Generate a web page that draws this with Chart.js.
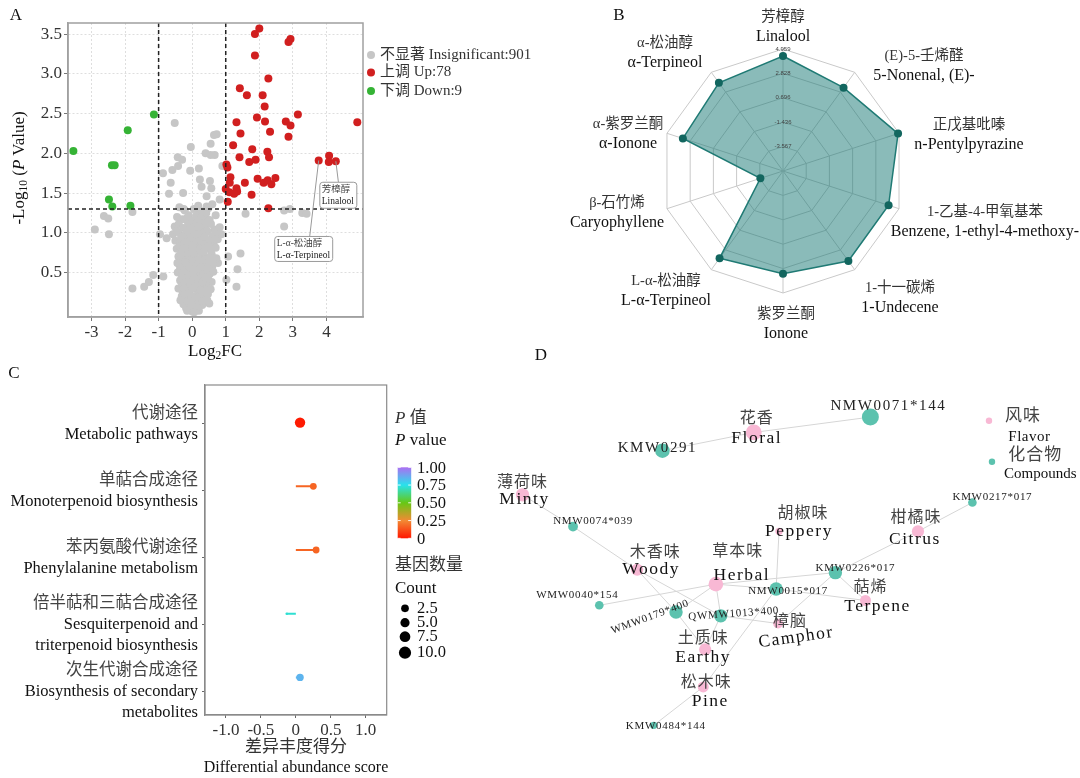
<!DOCTYPE html>
<html>
<head>
<meta charset="utf-8">
<script src="https://cdn.jsdelivr.net/npm/chart.js@4.4.1/dist/chart.umd.min.js"></script>
<style>
  body { margin:0; width:1080px; height:778px; background:#fff; position:relative; overflow:hidden;
         font-family:"Liberation Serif","Noto Sans CJK SC",serif; }
  canvas { position:absolute; }
  .t { position:absolute; white-space:nowrap; color:#111; line-height:1; transform:translate(-50%,-50%); }
  .l { position:absolute; white-space:nowrap; color:#111; line-height:1; transform:translateY(-50%); }
  sub { font-size:0.68em; vertical-align:-0.25em; }
</style>
</head>
<body>
<canvas id="volcano" width="560" height="345" style="left:0;top:0"></canvas>
<canvas id="radar" width="520" height="350" style="left:560px;top:0"></canvas>
<canvas id="pathway" width="540" height="413" style="left:0;top:365px"></canvas>
<canvas id="network" width="600" height="428" style="left:480px;top:350px"></canvas>

<div class="t" style="left:16px;top:14px;font-size:17px">A</div>
<div class="t" style="left:619px;top:14px;font-size:17px">B</div>
<div class="t" style="left:14px;top:372px;font-size:17px">C</div>
<div class="t" style="left:541px;top:354px;font-size:17px">D</div>

<div class="t" style="left:20px;top:168px;font-size:17px;transform:translate(-50%,-50%) rotate(-90deg)">-Log<sub>10</sub> (<i>P</i> Value)</div>
<div class="t" style="left:215px;top:352px;font-size:17px">Log<sub>2</sub>FC</div>

<div class="t" style="left:296px;top:746px;font-size:17px;color:#333">差异丰度得分</div>
<div class="t" style="left:296px;top:767px;font-size:16px">Differential abundance score</div>
<div class="l" style="left:395px;top:417px;font-size:17px;color:#333"><i>P</i> 值</div>
<div class="l" style="left:395px;top:439px;font-size:17px"><i>P</i> value</div>
<div class="l" style="left:395px;top:564px;font-size:17px;color:#333">基因数量</div>
<div class="l" style="left:395px;top:587px;font-size:17px">Count</div>

<script>
const FAMILY = '"Liberation Serif","Noto Sans CJK SC",serif';

// ---------- A: volcano ----------
const volcanoXTicks = [-3, -2, -1, 0, 1, 2, 3, 4];
const volcanoYTicks = [0.5, 1.0, 1.5, 2.0, 2.5, 3.0, 3.5];
const fcCut = [-1, 1];
const pCut = 1.3;
const groupNames = ['不显著 Insignificant', '上调 Up', '下调 Down'];
const groupCounts = [901, 78, 9];

const upPts = [[2.0,3.57],[1.87,3.5],[2.93,3.44],[2.87,3.40],[1.87,3.23],[2.27,2.94],[1.42,2.82],[1.63,2.73],
  [2.10,2.73],[2.16,2.59],[3.15,2.49],[1.32,2.39],[1.93,2.45],[2.17,2.40],[2.79,2.40],[2.93,2.35],[4.92,2.39],
  [1.44,2.25],[2.32,2.27],[2.87,2.21],[1.22,2.10],[1.79,2.05],[2.24,2.02],[1.41,1.95],[2.29,1.95],[1.70,1.89],
  [1.89,1.92],[1.02,1.86],[1.05,1.82],[3.77,1.91],[4.08,1.97],[4.07,1.89],[4.28,1.90],[1.14,1.70],[1.12,1.63],
  [1.95,1.68],[1.57,1.63],[2.13,1.63],[2.25,1.66],[2.36,1.61],[2.48,1.69],[1.0,1.55],[1.11,1.51],[1.32,1.56],
  [1.34,1.52],[1.25,1.49],[1.77,1.48],[1.06,1.39],[2.27,1.31]];

const downPts = [[-3.54,2.03],[-1.14,2.49],[-1.92,2.29],[-2.39,1.85],[-2.31,1.85],[-2.48,1.42],[-2.38,1.33],[-1.84,1.34]];

const insigPts = [
  [-0.52,2.38],[-0.04,2.08],[0.73,2.24],[0.65,2.23],[0.55,2.12],[0.40,2.00],[0.55,1.98],[0.67,1.98],[0.90,1.84],
  [-0.43,1.95],[-0.30,1.92],[-0.87,1.75],[-0.59,1.79],[-0.42,1.84],[-0.06,1.78],[0.20,1.81],[-0.64,1.63],[-0.69,1.49],
  [-0.27,1.50],[0.23,1.67],[0.28,1.58],[0.53,1.65],[0.57,1.56],[0.43,1.46],[0.82,1.42],[1.59,1.24],[2.74,1.28],
  [2.91,1.30],[2.74,1.08],[3.28,1.25],[3.41,1.24],[-1.78,1.26],[-2.63,1.21],[-2.50,1.18],[-2.90,1.04],[-2.48,0.98],
  [-1.78,0.30],[-1.43,0.32],[-1.29,0.38],[-1.16,0.47],[-0.86,0.45],[-0.96,0.98],[-0.76,0.93],[1.07,0.70],[1.44,0.74],
  [1.35,0.54],[1.32,0.32],[1.02,0.41],[0.77,0.62],[0.78,0.99],[0.87,0.98],[0.51,0.11],[0.23,1.25],[0.43,1.33],
  [-0.25,1.30],[-0.17,1.16],
  [-0.38,1.32],[-0.22,1.28],[0.05,1.30],[0.18,1.34],[0.32,1.27],[0.48,1.31],[0.60,1.36],[-0.10,1.22],
  [-0.45,1.20],[-0.30,1.17],[-0.15,1.19],[0.00,1.15],[0.12,1.21],[0.25,1.18],[0.38,1.20],[0.52,1.16],[0.70,1.22],[0.42,1.25],
  [-0.52,1.08],[-0.40,1.11],[-0.27,1.06],[-0.12,1.10],[0.02,1.07],[0.14,1.12],[0.27,1.05],[0.40,1.09],[0.56,1.11],[0.66,1.04],[0.82,1.07],
  [-0.57,0.98],[-0.42,1.01],[-0.30,0.96],[-0.17,1.00],[-0.05,0.97],[0.07,1.02],[0.19,0.95],[0.31,0.99],[0.45,1.02],[0.60,0.96],
  [-0.50,0.90],[-0.36,0.87],[-0.24,0.92],[-0.13,0.86],[-0.01,0.91],[0.10,0.88],[0.22,0.93],[0.35,0.86],[0.50,0.90],[0.64,0.87],[0.76,0.92],
  [-0.46,0.80],[-0.32,0.77],[-0.19,0.82],[-0.08,0.78],[0.04,0.81],[0.16,0.76],[0.28,0.80],[0.41,0.83],[0.56,0.78],[0.70,0.81],
  [-0.41,0.70],[-0.29,0.67],[-0.16,0.72],[-0.05,0.68],[0.06,0.71],[0.18,0.66],[0.30,0.72],[0.43,0.69],[0.58,0.73],[0.72,0.68],
  [-0.38,0.60],[-0.26,0.57],[-0.13,0.62],[-0.01,0.58],[0.10,0.61],[0.22,0.56],[0.34,0.60],[0.47,0.63],[0.60,0.58],
  [-0.43,0.50],[-0.31,0.47],[-0.19,0.52],[-0.07,0.48],[0.05,0.51],[0.16,0.46],[0.28,0.50],[0.40,0.53],[0.52,0.48],[0.63,0.51],
  [-0.36,0.40],[-0.23,0.37],[-0.11,0.42],[0.01,0.38],[0.12,0.41],[0.24,0.36],[0.36,0.40],[0.47,0.43],[0.58,0.38],
  [-0.41,0.30],[-0.29,0.27],[-0.17,0.32],[-0.05,0.28],[0.06,0.31],[0.18,0.26],[0.30,0.30],[0.42,0.33],[0.55,0.29],
  [-0.31,0.20],[-0.19,0.17],[-0.08,0.22],[0.03,0.18],[0.14,0.21],[0.25,0.16],[0.36,0.20],[0.47,0.23],
  [-0.26,0.10],[-0.13,0.08],[-0.02,0.12],[0.08,0.07],[0.19,0.11],[0.30,0.09],
  [-0.10,0.03],[0.00,0.01],[0.10,0.04],[-0.18,0.05],[0.20,0.02],
  [-0.20,0.45],[0.00,0.55],[0.20,0.35],[-0.10,0.65],[0.10,0.75],[0.00,0.85],[-0.25,0.75],[0.30,0.65],
  [0.15,0.15],[-0.05,0.15],[0.25,0.85],[-0.30,0.35],[0.45,0.15],[-0.35,0.15],
  [-0.33,0.95],[-0.20,0.88],[-0.02,0.94],[0.13,0.98],[0.26,0.90],[0.38,0.95],[-0.38,0.83],[-0.25,0.80],[-0.12,0.75],
  [0.00,0.79],[0.22,0.79],[0.35,0.76],[0.48,0.83],[-0.34,0.73],[-0.22,0.63],[-0.08,0.58],[0.04,0.64],[0.16,0.60],
  [0.27,0.56],[0.38,0.66],[0.52,0.68],[-0.36,0.55],[-0.25,0.50],[-0.13,0.44],[-0.01,0.47],[0.11,0.53],[0.22,0.45],
  [0.34,0.48],[0.46,0.56],[-0.28,0.42],[-0.18,0.38],[-0.06,0.35],[0.07,0.42],[0.18,0.41],[0.30,0.38],[0.41,0.44],
  [-0.24,0.30],[-0.11,0.26],[0.01,0.30],[0.12,0.33],[0.24,0.28],[0.36,0.26],[-0.22,0.22],[-0.14,0.14],[-0.02,0.20],
  [0.09,0.16],[0.20,0.19],[0.31,0.14],[-0.06,0.06],[0.05,0.09],[0.14,0.06],[-0.15,0.02],[0.06,0.00],[-0.44,0.62],
  [0.62,0.64],[0.68,0.92],[-0.47,1.02],[0.35,1.12],[-0.05,1.05],[0.20,1.08]];

const labelledGenes = [
  { zh: '芳樟醇', en: 'Linalool', x: 4.28, y: 1.90 },
  { zh: 'L-α-松油醇', en: 'L-α-Terpineol', x: 3.77, y: 1.91 }];

// ---------- B: radar ----------
const radarZh = ['芳樟醇','(E)-5-壬烯醛','正戊基吡嗪','1-乙基-4-甲氧基苯','1-十一碳烯','紫罗兰酮','L-α-松油醇','β-石竹烯','α-紫罗兰酮','α-松油醇'];
const radarEn = ['Linalool','5-Nonenal, (E)-','n-Pentylpyrazine','Benzene, 1-ethyl-4-methoxy-','1-Undecene','Ionone','L-α-Terpineol','Caryophyllene','α-Ionone','α-Terpineol'];
const radarValues = [4.35, 3.30, 4.87, 4.00, 4.02, 3.27, 3.73, -3.62, 3.50, 3.83];
const radarTicks = [-5.698, -3.567, -1.436, 0.696, 2.828, 4.959];

// ---------- C: pathways ----------
const pathwayZh = ['代谢途径','单萜合成途径','苯丙氨酸代谢途径','倍半萜和三萜合成途径','次生代谢合成途径'];
const pathwayEn = [['Metabolic pathways'],['Monoterpenoid biosynthesis'],['Phenylalanine metabolism'],
                   ['Sesquiterpenoid and','triterpenoid biosynthesis'],['Biosynthesis of secondary','metabolites']];
const daScore = [0.06, 0.25, 0.29, -0.13, 0.06];
const pValue = [0.01, 0.17, 0.17, 0.72, 0.85];
const geneCount = [7, 1, 1, 0, 2];
const scoreTicks = [-1.0, -0.5, 0, 0.5, 1.0];
const pLegendTicks = [1.0, 0.75, 0.5, 0.25, 0];
const countLegend = [2.5, 5.0, 7.5, 10.0];

// ---------- D: network ----------
const netNodes = ['KMW0291','Floral','NMW0071*144','Minty','NMW0074*039','Woody','Herbal','Peppery','Citrus','KMW0217*017',
                  'KMW0226*017','NMW0015*017','Terpene','WMW0040*154','WMW0179*400','QWMW1013*400','Camphor','Earthy','Pine','KMW0484*144'];
const netKind = ['c','f','c','f','c','f','f','f','f','c','c','c','f','c','c','c','f','f','f','c'];
const netZh = { Floral:'花香', Minty:'薄荷味', Woody:'木香味', Herbal:'草本味', Peppery:'胡椒味', Citrus:'柑橘味',
                Terpene:'萜烯', Camphor:'樟脑', Earthy:'土质味', Pine:'松木味' };
const netX = [179, 273, 393, 35, 87, 153, 234, 299, 442, 498, 357, 296, 388, 114, 193, 239, 298, 223, 221, 170];
const netY = [96, 77, 61, 142, 175, 220, 235, 180, 180, 150, 223, 240, 252, 257, 264, 268, 276, 303, 342, 382];
const netWeight = [4, 4.5, 5, 3.5, 2, 3, 4, 1, 3, 1.5, 3.5, 3.5, 2.5, 1.5, 3.5, 3.5, 2, 3, 2.5, 1];
const netEdges = [['KMW0291','Floral'],['Floral','NMW0071*144'],['Minty','NMW0074*039'],['NMW0074*039','Woody'],
  ['Woody','QWMW1013*400'],['Woody','WMW0179*400'],['WMW0179*400','Earthy'],['WMW0179*400','Herbal'],
  ['WMW0040*154','Herbal'],['Herbal','QWMW1013*400'],['Herbal','NMW0015*017'],['Herbal','KMW0226*017'],
  ['Peppery','NMW0015*017'],['NMW0015*017','Terpene'],['NMW0015*017','Pine'],['QWMW1013*400','Camphor'],
  ['QWMW1013*400','Earthy'],['KMW0226*017','Terpene'],['KMW0226*017','Camphor'],['KMW0226*017','Citrus'],
  ['Citrus','KMW0217*017'],['Pine','KMW0484*144']];

// ---------- helpers / styles ----------
function txt(ctx, s, x, y, size, color, opt) {
  opt = opt || {};
  ctx.save();
  ctx.translate(x, y);
  if (opt.rot) ctx.rotate(opt.rot * Math.PI / 180);
  ctx.font = (opt.style ? opt.style + ' ' : '') + size + 'px ' + FAMILY;
  ctx.fillStyle = color;
  ctx.textAlign = opt.align || 'center';
  ctx.textBaseline = 'middle';
  if (opt.ls && 'letterSpacing' in ctx) ctx.letterSpacing = opt.ls + 'px';
  ctx.fillText(s, 0, 0);
  ctx.restore();
}
function boxAround(chart, color, width) {
  const a = chart.chartArea, ctx = chart.ctx;
  ctx.save();
  ctx.strokeStyle = color; ctx.lineWidth = width;
  ctx.strokeRect(a.left, a.top, a.right - a.left, a.bottom - a.top);
  ctx.restore();
}
const toXY = p => ({ x: p[0], y: p[1] });

// ---------- A ----------
const volcanoDecor = {
  id: 'volcanoDecor',
  afterDatasetsDraw(chart) {
    const ctx = chart.ctx, xs = chart.scales.x, ys = chart.scales.y, a = chart.chartArea;
    ctx.save();
    ctx.strokeStyle = '#222'; ctx.lineWidth = 1.5; ctx.setLineDash([4, 3]);
    fcCut.forEach(v => {
      const px = xs.getPixelForValue(v);
      ctx.beginPath(); ctx.moveTo(px, a.top); ctx.lineTo(px, a.bottom); ctx.stroke();
    });
    const py = ys.getPixelForValue(pCut);
    ctx.beginPath(); ctx.moveTo(a.left, py); ctx.lineTo(a.right, py); ctx.stroke();
    ctx.restore();
    boxAround(chart, '#a0a0a0', 1.5);

    // labelled genes
    const boxes = [{ dx: -16, dy: 21, w: 37, h: 26, lx: 2.6 }, { dx: -44, dy: 76, w: 58, h: 25, lx: -9 }];
    labelledGenes.forEach((g, i) => {
      const px = xs.getPixelForValue(g.x), py = ys.getPixelForValue(g.y), b = boxes[i];
      ctx.save();
      ctx.strokeStyle = '#9a9a9a'; ctx.lineWidth = 1;
      ctx.beginPath(); ctx.moveTo(px, py); ctx.lineTo(px + b.lx, py + b.dy); ctx.stroke();
      ctx.fillStyle = '#fff';
      ctx.beginPath(); ctx.roundRect(px + b.dx, py + b.dy, b.w, b.h, 3); ctx.fill(); ctx.stroke();
      ctx.restore();
      txt(ctx, g.zh, px + b.dx + 2, py + b.dy + 7.5, 9.5, '#444', { align: 'left' });
      txt(ctx, g.en, px + b.dx + 2, py + b.dy + 19, 9.5, '#222', { align: 'left' });
    });

    // legend
    const cols = ['#c6c6c6', '#d11f1f', '#35b335'];
    const ly = [55, 72.5, 91];
    groupNames.forEach((n, i) => {
      ctx.save(); ctx.fillStyle = cols[i];
      ctx.beginPath(); ctx.arc(371, ly[i], 4, 0, Math.PI * 2); ctx.fill(); ctx.restore();
      txt(ctx, n + ':' + groupCounts[i], 380, ly[i], 15, '#333', { align: 'left' });
    });
  }
};

new Chart(document.getElementById('volcano'), {
  type: 'scatter',
  data: { datasets: [
    { data: downPts.map(toXY), backgroundColor: '#35b335', pointRadius: 4, borderWidth: 0, order: 1 },
    { data: upPts.map(toXY), backgroundColor: '#d11f1f', pointRadius: 4, borderWidth: 0, order: 2 },
    { data: insigPts.map(toXY), backgroundColor: '#c6c6c6', pointRadius: 4, borderWidth: 0, order: 3 }
  ]},
  options: {
    responsive: false, animation: false,
    layout: { padding: { left: 20, top: 23, right: 197, bottom: 3 } },
    plugins: { legend: { display: false }, tooltip: { enabled: false } },
    scales: {
      x: { type: 'linear', min: -3.7, max: 5.09,
           afterBuildTicks: s => { s.ticks = volcanoXTicks.map(v => ({ value: v })); },
           afterFit: s => { s.height = 25; },
           ticks: { font: { family: FAMILY, size: 17 }, color: '#333', padding: 1, callback: v => String(v) },
           grid: { color: '#dedede', tickColor: '#777', tickLength: 4 },
           border: { color: '#a0a0a0', width: 1.5, dash: [2, 2] } },
      y: { type: 'linear', min: -0.06, max: 3.64,
           afterBuildTicks: s => { s.ticks = volcanoYTicks.map(v => ({ value: v })); },
           afterFit: s => { s.width = 48; },
           ticks: { font: { family: FAMILY, size: 17 }, color: '#333', padding: 2, callback: v => v.toFixed(1) },
           grid: { color: '#dedede', tickColor: '#777', tickLength: 4 },
           border: { color: '#a0a0a0', width: 1.5, dash: [2, 2] } }
    }
  },
  plugins: [volcanoDecor]
});

// ---------- B ----------
const radarLabelPos = [[0,-144],[141,-105],[186,-36],[202,51],[117,127],[3,153],[-117,120],[-166,42],[-155,-37],[-118,-118]];
const radarLabels = {
  id: 'radarLabels',
  afterDraw(chart) {
    const r = chart.scales.r, ctx = chart.ctx;
    radarZh.forEach((zh, i) => {
      const cx = r.xCenter + radarLabelPos[i][0], cy = r.yCenter + radarLabelPos[i][1];
      txt(ctx, zh, cx, cy - 10, 14.5, '#333');
      txt(ctx, radarEn[i], cx, cy + 10, 16, '#111');
    });
  }
};

new Chart(document.getElementById('radar'), {
  type: 'radar',
  data: { labels: radarEn, datasets: [{
    data: radarValues,
    backgroundColor: 'rgba(22,120,115,0.5)', borderColor: '#1f7a74', borderWidth: 1.5,
    pointBackgroundColor: '#12665f', pointBorderWidth: 0, pointRadius: 4, fill: 'start'
  }]},
  options: {
    responsive: false, animation: false,
    layout: { padding: { left: 98.3, right: 171.7, top: 46.7, bottom: 53.3 } },
    plugins: { legend: { display: false }, tooltip: { enabled: false } },
    scales: { r: {
      min: radarTicks[0], max: radarTicks[radarTicks.length - 1],
      afterBuildTicks: s => { s.ticks = radarTicks.map(v => ({ value: v })); },
      ticks: { display: true, font: { family: '"Liberation Sans",sans-serif', size: 6 }, color: '#444',
               showLabelBackdrop: false, backdropPadding: 0, z: 1,
               callback: (v, i) => i === 0 ? '' : v.toFixed(3) },
      grid: { color: '#c9c9c9', lineWidth: 1 },
      angleLines: { color: '#c9c9c9', lineWidth: 1 },
      pointLabels: { display: false }
    }}
  },
  plugins: [radarLabels]
});

// ---------- C ----------
const pStops = [[0, [255, 22, 0]], [0.25, [242, 138, 52]], [0.5, [102, 200, 20]], [0.75, [40, 226, 236]], [1, [172, 110, 242]]];
function pColor(p) {
  for (let i = 1; i < pStops.length; i++) {
    if (p <= pStops[i][0]) {
      const [p0, c0] = pStops[i - 1], [p1, c1] = pStops[i], t = (p - p0) / (p1 - p0);
      return 'rgb(' + c0.map((c, k) => Math.round(c + (c1[k] - c) * t)).join(',') + ')';
    }
  }
  return 'rgb(' + pStops[pStops.length - 1][1].join(',') + ')';
}
const countRadius = c => c > 0 ? 3.1 + 0.3 * c : 1.3;

const pathwayDecor = {
  id: 'pathwayDecor',
  afterDraw(chart) {
    const ctx = chart.ctx, ys = chart.scales.y, a = chart.chartArea;
    boxAround(chart, '#8a8a8a', 1.2);
    // category labels
    ys.ticks.forEach((t, i) => {
      const lines = [pathwayZh[i]].concat(pathwayEn[i]);
      const py = ys.getPixelForValue(t.value), lh = 21;
      lines.forEach((s, k) => {
        txt(ctx, s, a.left - 7, py + (k - (lines.length - 1) / 2) * lh, 16.5, k === 0 ? '#444' : '#111', { align: 'right' });
      });
    });
    // colour bar (canvas-local coordinates)
    const top = 102.3, bot = 173.3, x0 = 397.7, w = 13.5;
    const g = ctx.createLinearGradient(0, bot, 0, top);
    pStops.forEach(s => g.addColorStop(s[0], 'rgb(' + s[1].join(',') + ')'));
    ctx.save();
    ctx.fillStyle = g; ctx.fillRect(x0, top, w, bot - top);
    ctx.strokeStyle = 'rgba(255,255,255,0.9)'; ctx.lineWidth = 1;
    pLegendTicks.forEach(v => {
      const y = bot - v * (bot - top);
      ctx.beginPath(); ctx.moveTo(x0, y); ctx.lineTo(x0 + 3, y); ctx.moveTo(x0 + w - 3, y); ctx.lineTo(x0 + w, y); ctx.stroke();
    });
    ctx.restore();
    pLegendTicks.forEach(v => {
      const y = bot - v * (bot - top);
      txt(ctx, v === 0 ? '0' : v.toFixed(2), 417, y + 1, 16.5, '#111', { align: 'left' });
    });
    // size legend
    const sy = [243.3, 257.7, 271.7, 287.7];
    countLegend.forEach((c, i) => {
      ctx.save(); ctx.fillStyle = '#000';
      ctx.beginPath(); ctx.arc(405, sy[i], countRadius(c), 0, Math.PI * 2); ctx.fill(); ctx.restore();
      txt(ctx, c.toFixed(1), 417, sy[i], 16.5, '#111', { align: 'left' });
    });
  }
};

const pathwayDatasets = daScore.map((v, i) => ({
  type: 'scatter', showLine: true, data: [{ x: 0, y: i + 1 }, { x: v, y: i + 1 }],
  borderColor: pColor(pValue[i]), borderWidth: 2, pointRadius: 0, order: 2
}));
pathwayDatasets.unshift({
  type: 'scatter', data: daScore.map((v, i) => ({ x: v, y: i + 1 })),
  backgroundColor: pValue.map(pColor), pointRadius: geneCount.map(countRadius), borderWidth: 0, order: 1
});

new Chart(document.getElementById('pathway'), {
  type: 'scatter',
  data: { datasets: pathwayDatasets },
  options: {
    responsive: false, animation: false,
    layout: { padding: { left: 5, top: 20, right: 153.3, bottom: 38 } },
    plugins: { legend: { display: false }, tooltip: { enabled: false } },
    scales: {
      x: { type: 'linear', min: -1.3, max: 1.3,
           afterBuildTicks: s => { s.ticks = scoreTicks.map(v => ({ value: v })); },
           afterFit: s => { s.height = 25; },
           ticks: { font: { family: FAMILY, size: 17 }, color: '#333', padding: 2, callback: v => v === 0 ? '0' : v.toFixed(1) },
           grid: { drawOnChartArea: false, tickColor: '#666', tickLength: 3 },
           border: { color: '#8a8a8a', width: 1.2 } },
      y: { type: 'linear', min: 0.41, max: 5.59, reverse: true,
           afterBuildTicks: s => { s.ticks = daScore.map((v, i) => ({ value: i + 1.02 + i * 0.052 })); },
           afterFit: s => { s.width = 200; },
           ticks: { callback: () => '', padding: 3 },
           grid: { drawOnChartArea: false, tickColor: '#666', tickLength: 3 },
           border: { color: '#8a8a8a', width: 1.2 } }
    }
  },
  plugins: [pathwayDecor]
});

// ---------- D ----------
const netLabelLayout = {
  'KMW0291': { at: [-5, -3], big: true },
  'Floral': { zh: [3, -14], en: [3, 6] },
  'NMW0071*144': { at: [18, -11], big: true },
  'Minty': { zh: [0, -12], en: [2, 5] },
  'NMW0074*039': { at: [20, -5] },
  'Woody': { zh: [18, -17], en: [14, 0] },
  'Herbal': { zh: [22, -32], en: [26, -9] },
  'Peppery': { zh: [24, -18], en: [20, 0] },
  'Citrus': { zh: [-2, -14], en: [-3, 8] },
  'KMW0217*017': { at: [20, -5] },
  'KMW0226*017': { at: [20, -5] },
  'NMW0015*017': { at: [12, 2] },
  'Terpene': { zh: [5, -13], en: [12, 6] },
  'WMW0040*154': { at: [-22, -10] },
  'WMW0179*400': { at: [-26, 5], rot: -20 },
  'QWMW1013*400': { at: [13, -2], rot: -4 },
  'Camphor': { zh: [12, -2], en: [18, 14], rot: -8 },
  'Earthy': { zh: [-2, -11], en: [-2, 8] },
  'Pine': { zh: [3, -4], en: [7, 14] },
  'KMW0484*144': { at: [12, 1] }
};
const PINK = '#f8b8d4', TEAL = '#5cc2ae';
const nodeRadius = w => 2.5 + 1.2 * w;

const netDecor = {
  id: 'netDecor',
  afterDatasetsDraw(chart) {
    const ctx = chart.ctx, xs = chart.scales.x, ys = chart.scales.y;
    netNodes.forEach((id, i) => {
      const px = xs.getPixelForValue(netX[i]), py = ys.getPixelForValue(netY[i]), L = netLabelLayout[id];
      if (netKind[i] === 'f') {
        txt(ctx, netZh[id], px + L.zh[0], py + L.zh[1], 16, '#444', { ls: 1 });
        txt(ctx, id, px + L.en[0], py + L.en[1], 17.5, '#111', { ls: 1.5, rot: L.rot });
      } else {
        txt(ctx, id, px + L.at[0], py + L.at[1], L.big ? 15 : 11, '#222', { ls: L.big ? 1.6 : 0.7, rot: L.rot });
      }
    });
    // legend
    ctx.save();
    ctx.fillStyle = PINK; ctx.beginPath(); ctx.arc(509, 70.7, 3.2, 0, Math.PI * 2); ctx.fill();
    ctx.fillStyle = TEAL; ctx.beginPath(); ctx.arc(512, 111.7, 3.2, 0, Math.PI * 2); ctx.fill();
    ctx.restore();
    txt(ctx, '风味', 525, 66.7, 17, '#444', { align: 'left', ls: 1 });
    txt(ctx, 'Flavor', 528.3, 86.7, 15, '#111', { align: 'left', ls: 0.5 });
    txt(ctx, '化合物', 528.3, 105.7, 17, '#444', { align: 'left', ls: 1 });
    txt(ctx, 'Compounds', 524, 124, 15, '#111', { align: 'left' });
  }
};

const nodeIndex = id => netNodes.indexOf(id);
const netDatasets = [{
  data: netNodes.map((id, i) => ({ x: netX[i], y: netY[i] })),
  backgroundColor: netKind.map(k => k === 'f' ? PINK : TEAL),
  pointRadius: netWeight.map(nodeRadius), borderWidth: 0, order: 1
}];
netEdges.forEach(e => {
  const a = nodeIndex(e[0]), b = nodeIndex(e[1]);
  netDatasets.push({ showLine: true, data: [{ x: netX[a], y: netY[a] }, { x: netX[b], y: netY[b] }],
    borderColor: '#d6d6d6', borderWidth: 1, pointRadius: 0, order: 2 });
});

new Chart(document.getElementById('network'), {
  type: 'scatter',
  data: { datasets: netDatasets },
  options: {
    responsive: false, animation: false,
    layout: { padding: 0 },
    plugins: { legend: { display: false }, tooltip: { enabled: false } },
    scales: {
      x: { type: 'linear', min: 0, max: 600, display: false },
      y: { type: 'linear', min: 0, max: 428, reverse: true, display: false }
    }
  },
  plugins: [netDecor]
});
</script>
</body>
</html>
